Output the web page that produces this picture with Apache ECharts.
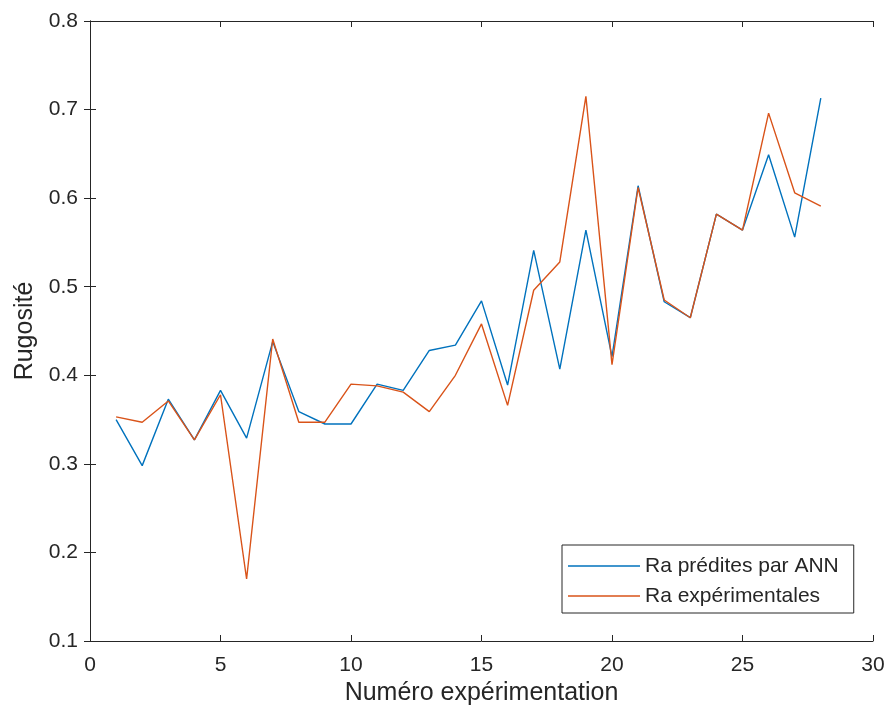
<!DOCTYPE html>
<html>
<head>
<meta charset="utf-8">
<script src="https://cdn.jsdelivr.net/npm/echarts@6/dist/echarts.min.js"></script>
<style>
  html, body { margin: 0; padding: 0; background: #ffffff; }
  #chart { width: 889px; height: 715px; }
</style>
</head>
<body>
<div id="chart"></div>
<script>
// Experiment numbers
const experiments = [1, 2, 3, 4, 5, 6, 7, 8, 9, 10, 11, 12, 13, 14, 15, 16, 17, 18, 19, 20, 21, 22, 23, 24, 25, 26, 27, 28];

// Surface roughness Ra predicted by the neural network
const raPredicted = [0.350, 0.298, 0.373, 0.327, 0.383, 0.329, 0.438, 0.359, 0.345, 0.345,
                     0.390, 0.383, 0.428, 0.434, 0.484, 0.389, 0.541, 0.407, 0.564, 0.421,
                     0.614, 0.483, 0.465, 0.582, 0.564, 0.649, 0.556, 0.713];

// Measured surface roughness Ra
const raMeasured = [0.353, 0.347, 0.371, 0.327, 0.378, 0.170, 0.441, 0.347, 0.347, 0.390,
                    0.388, 0.381, 0.359, 0.400, 0.458, 0.366, 0.496, 0.528, 0.715, 0.412,
                    0.612, 0.485, 0.465, 0.582, 0.564, 0.696, 0.606, 0.591];

const xTicks = { min: 0, max: 30, interval: 5 };
const yTicks = { min: 0.1, max: 0.8, interval: 0.1 };

const seriesNames = ['Ra prédites par ANN', 'Ra expérimentales'];
const xTitle = 'Numéro expérimentation';
const yTitle = 'Rugosité';

const AX = '#262626';
const FONT = 'Liberation Sans, Arial, Helvetica, sans-serif';

const pairs = (ys) => experiments.map((x, i) => [x, ys[i]]);

const chart = echarts.init(document.getElementById('chart'), null, { renderer: 'canvas' });

const axisLine = { show: true, lineStyle: { color: AX, width: 1 } };
const tickIn = { show: true, inside: true, length: 6, lineStyle: { color: AX, width: 1 } };

chart.setOption({
  animation: false,
  backgroundColor: '#ffffff',
  textStyle: { fontFamily: FONT },
  grid: { left: 90, right: 16, top: 21, bottom: 74, containLabel: false },
  legend: {
    left: 562,
    top: 545,
    orient: 'vertical',
    data: seriesNames,
    icon: 'rect',
    itemWidth: 72,
    itemHeight: 1.5,
    itemGap: 0,
    padding: [6, 15, 2, 6],
    borderColor: AX,
    borderWidth: 1,
    backgroundColor: '#ffffff',
    textStyle: { fontFamily: FONT, fontSize: 21, color: AX, lineHeight: 30 }
  },
  xAxis: [
    {
      type: 'value',
      position: 'bottom',
      min: xTicks.min, max: xTicks.max, interval: xTicks.interval,
      name: xTitle,
      nameLocation: 'middle',
      nameGap: 39,
      nameTextStyle: { fontFamily: FONT, fontSize: 25, color: AX },
      axisLine: axisLine,
      axisTick: tickIn,
      axisLabel: { color: AX, fontFamily: FONT, fontSize: 21, margin: 14 },
      splitLine: { show: false }
    },
    {
      type: 'value',
      position: 'top',
      min: xTicks.min, max: xTicks.max, interval: xTicks.interval,
      axisLine: axisLine,
      axisTick: tickIn,
      axisLabel: { show: false },
      splitLine: { show: false }
    }
  ],
  yAxis: [
    {
      type: 'value',
      position: 'left',
      min: yTicks.min, max: yTicks.max, interval: yTicks.interval,
      name: yTitle,
      nameLocation: 'middle',
      nameGap: 50,
      nameTextStyle: { fontFamily: FONT, fontSize: 25, color: AX },
      axisLine: axisLine,
      axisTick: tickIn,
      axisLabel: { color: AX, fontFamily: FONT, fontSize: 21, margin: 12, formatter: (v) => v.toFixed(1) },
      splitLine: { show: false }
    },
    {
      type: 'value',
      position: 'right',
      min: yTicks.min, max: yTicks.max, interval: yTicks.interval,
      axisLine: axisLine,
      axisTick: tickIn,
      axisLabel: { show: false },
      splitLine: { show: false }
    }
  ],
  series: [
    {
      name: seriesNames[0],
      type: 'line',
      data: pairs(raPredicted),
      showSymbol: false,
      symbol: 'none',
      color: '#0072BD',
      lineStyle: { color: '#0072BD', width: 1.4 },
      z: 3
    },
    {
      name: seriesNames[1],
      type: 'line',
      data: pairs(raMeasured),
      showSymbol: false,
      symbol: 'none',
      color: '#D95319',
      lineStyle: { color: '#D95319', width: 1.4 },
      z: 4
    }
  ]
});
</script>
</body>
</html>
